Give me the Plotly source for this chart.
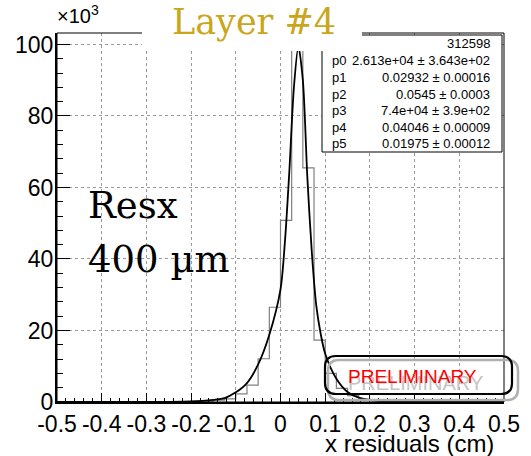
import numpy as np
import plotly.graph_objects as go

# ---------------- data ----------------
bin_width = 0.025
bin_lo, bin_hi = -0.5, 0.5
# histogram contents (x10^3 entries per 0.025 cm bin), bins from -0.5 to 0.5
hist_counts = [
    0, 0, 0, 0, 0, 0, 0, 0, 0, 0,          # -0.500 .. -0.250
    0.05, 0.1, 0.15, 0.25, 0.5, 0.9,       # -0.250 .. -0.100
    2.3, 4.7, 12.1, 26.5,                  # -0.100 ..  0.000
    50.8, 98.3, 65.5, 17.3,                #  0.000 ..  0.100
    8.0, 3.8, 1.8, 0.8, 0.4, 0.2,          #  0.100 ..  0.250
    0.1, 0.05, 0, 0, 0, 0, 0, 0, 0, 0,     #  0.250 ..  0.500
]
# fitted curve (double gaussian)
fit_x = [-0.5, -0.3, -0.25, -0.2, -0.175, -0.15, -0.125, -0.1, -0.075, -0.05,
         -0.025, 0.0, 0.01, 0.02, 0.03, 0.04, 0.05, 0.06, 0.07, 0.08, 0.09,
         0.1, 0.125, 0.15, 0.175, 0.2, 0.25, 0.3, 0.5]
fit_y = [0, 0.01, 0.05, 0.15, 0.3, 0.6, 1.1, 2.7, 5.3, 10.5,
         18.8, 31.5, 45, 65, 88, 99.4, 90, 63, 42, 27, 19,
         13.5, 6.5, 2.8, 1.2, 0.5, 0.1, 0.02, 0]

x_ticks = [-0.5, -0.4, -0.3, -0.2, -0.1, 0, 0.1, 0.2, 0.3, 0.4, 0.5]
x_tick_text = ["-0.5", "-0.4", "-0.3", "-0.2", "-0.1", "0", "0.1", "0.2", "0.3", "0.4", "0.5"]
y_ticks = [0, 20, 40, 60, 80, 100]
y_tick_text = ["0", "20", "40", "60", "80", "100"]

stat_labels = ["p0", "p1", "p2", "p3", "p4", "p5"]
stat_values = ["2.613e+04 \u00b1 3.643e+02", "0.02932 \u00b1 0.00016", "0.0545 \u00b1 0.0003",
               "7.4e+04 \u00b1 3.9e+02", "0.04046 \u00b1 0.00009", "0.01975 \u00b1 0.00012"]
entries_value = "312598"

# ---------------- geometry helpers ----------------
W, H = 531, 456
ML, MR, MT, MB = 57, 27, 33, 54
PW, PH = W - ML - MR, H - MT - MB


def px(x):
    return (x - ML) / PW


def py(y):
    return (H - MB - y) / PH


centers = np.arange(bin_lo + bin_width / 2, bin_hi, bin_width)

fig = go.Figure()
fig.add_trace(go.Scatter(
    x=centers, y=hist_counts, mode="lines", line=dict(shape="hvh", color="#808080", width=1.2),
    hoverinfo="skip", showlegend=False))
fig.add_trace(go.Scatter(
    x=fit_x, y=fit_y, mode="lines", line=dict(shape="spline", smoothing=0.8, color="black", width=1.8),
    hoverinfo="skip", showlegend=False))

tickfont = dict(family="Liberation Sans, Arial, sans-serif", size=23, color="black")
fig.update_xaxes(
    range=[-0.5, 0.5], tickvals=x_ticks, ticktext=x_tick_text, tickfont=tickfont,
    ticks="inside", ticklen=9, tickcolor="black", tickwidth=1,
    minor=dict(dtick=0.02, tick0=0, ticks="inside", ticklen=4, tickcolor="black", showgrid=False),
    showgrid=True, gridcolor="#9a9a9a", griddash="dot", gridwidth=1,
    showline=True, linecolor="black", linewidth=2, zeroline=False,
)
fig.update_yaxes(
    range=[0, 103.2], tickvals=y_ticks, ticktext=y_tick_text, tickfont=tickfont,
    ticks="inside", ticklen=13, tickcolor="black", tickwidth=1, ticklabelstandoff=-3,
    minor=dict(dtick=4, tick0=0, ticks="inside", ticklen=6, tickcolor="black", showgrid=False),
    showgrid=True, gridcolor="#9a9a9a", griddash="dot", gridwidth=1,
    showline=True, linecolor="black", linewidth=2, zeroline=False,
)

shapes = []
# frame
shapes.append(dict(type="rect", xref="paper", yref="paper", x0=0, x1=1, y0=0, y1=1,
                   line=dict(color="black", width=1), layer="above"))
# stats box
shapes.append(dict(type="rect", xref="paper", yref="paper", x0=px(322), x1=px(502), y0=py(152), y1=py(35),
                   line=dict(color="black", width=1), fillcolor="white", layer="above"))
# white box behind the title overlay
shapes.append(dict(type="rect", xref="paper", yref="paper", x0=px(142), x1=px(362), y0=py(51), y1=py(-5),
                   line=dict(width=0), fillcolor="white", layer="above"))


def rounded(x0, y0, x1, y1, r):
    rx, ry = r / PW, r / PH
    X0, X1, Y0, Y1 = px(x0), px(x1), py(y1), py(y0)
    return (f"M {X0+rx},{Y0} L {X1-rx},{Y0} Q {X1},{Y0} {X1},{Y0+ry} "
            f"L {X1},{Y1-ry} Q {X1},{Y1} {X1-rx},{Y1} L {X0+rx},{Y1} "
            f"Q {X0},{Y1} {X0},{Y1-ry} L {X0},{Y0+ry} Q {X0},{Y0} {X0+rx},{Y0} Z")


shapes.append(dict(type="path", xref="paper", yref="paper", path=rounded(328, 360, 518, 400, 11),
                   line=dict(color="#b0b0b0", width=2.5), layer="above"))
shapes.append(dict(type="path", xref="paper", yref="paper", path=rounded(325, 356, 512, 394, 11),
                   line=dict(color="black", width=2.2), layer="above"))

annotations = []
sans = "Liberation Sans, Arial, sans-serif"
serif = "DejaVu Serif, serif"
annotations.append(dict(text="\u00d710<sup>3</sup>", xref="paper", yref="paper", x=px(55), y=py(29),
                        xanchor="left", yanchor="bottom", showarrow=False,
                        font=dict(family=sans, size=20, color="black")))
annotations.append(dict(text="Layer #4", xref="paper", yref="paper", x=px(254), y=py(22),
                        xanchor="center", yanchor="middle", showarrow=False,
                        font=dict(family=serif, size=35, color="#c9a61c")))
annotations.append(dict(text="Resx", xref="paper", yref="paper", x=px(86), y=py(205),
                        xanchor="left", yanchor="middle", showarrow=False,
                        font=dict(family=serif, size=37, color="black")))
annotations.append(dict(text="400 \u00b5m", xref="paper", yref="paper", x=px(86), y=py(259),
                        xanchor="left", yanchor="middle", showarrow=False,
                        font=dict(family=serif, size=37, color="black")))
annotations.append(dict(text="x residuals (cm)", xref="paper", yref="paper", x=px(496), y=py(443),
                        xanchor="right", yanchor="middle", showarrow=False,
                        font=dict(family=sans, size=24, color="black")))
# stats text
annotations.append(dict(text=entries_value, xref="paper", yref="paper", x=px(492), y=py(43.5),
                        xanchor="right", yanchor="middle", showarrow=False,
                        font=dict(family=sans, size=13, color="black")))
row_y = [60.7, 77.3, 94.0, 110.6, 127.2, 143.8]
for lab, val, yy in zip(stat_labels, stat_values, row_y):
    annotations.append(dict(text=lab, xref="paper", yref="paper", x=px(330), y=py(yy),
                            xanchor="left", yanchor="middle", showarrow=False,
                            font=dict(family=sans, size=13, color="black")))
    annotations.append(dict(text=val, xref="paper", yref="paper", x=px(492), y=py(yy),
                            xanchor="right", yanchor="middle", showarrow=False,
                            font=dict(family=sans, size=13, color="black")))
# PRELIMINARY stamp
annotations.append(dict(text="PRELIMINARY", xref="paper", yref="paper", x=px(415), y=py(383),
                        xanchor="center", yanchor="middle", showarrow=False,
                        font=dict(family=sans, size=20, color="#c4c4c4")))
annotations.append(dict(text="PRELIMINARY", xref="paper", yref="paper", x=px(412), y=py(376),
                        xanchor="center", yanchor="middle", showarrow=False,
                        font=dict(family=sans, size=19, color="#ff0000")))

fig.update_layout(
    width=W, height=H, autosize=False,
    margin=dict(l=ML, r=MR, t=MT, b=MB, pad=0),
    paper_bgcolor="white", plot_bgcolor="white",
    shapes=shapes, annotations=annotations, showlegend=False,
)

fig.write_html("out.html", config=dict(displayModeBar=False))
